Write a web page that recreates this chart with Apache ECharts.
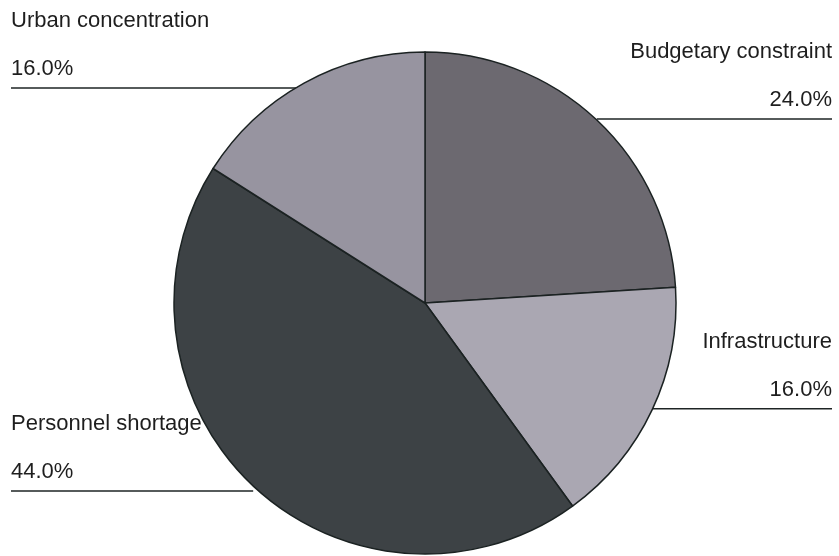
<!DOCTYPE html>
<html>
<head>
<meta charset="utf-8">
<script src="https://cdn.jsdelivr.net/npm/echarts@6/dist/echarts.min.js"></script>
<style>
html,body{margin:0;padding:0;background:#fff;}
#chart{width:839px;height:556px;}
</style>
</head>
<body>
<div id="chart"></div>
<script>
const categories = ['Budgetary constraint', 'Infrastructure', 'Personnel shortage', 'Urban concentration'];
const values = [24.0, 16.0, 44.0, 16.0];
const colors = ['#6c6970', '#aaa7b2', '#3d4245', '#9794a0'];

const chart = echarts.init(document.getElementById('chart'));
chart.setOption({
  animation: false,
  backgroundColor: '#ffffff',
  series: [{
    type: 'pie',
    center: [425, 303],
    radius: 251,
    startAngle: 90,
    clockwise: true,
    data: categories.map((c, i) => ({ name: c, value: values[i], itemStyle: { color: colors[i] } })),
    itemStyle: { borderColor: '#1b2222', borderWidth: 1.5 },
    label: {
      show: true,
      position: 'outside',
      formatter: p => p.name + '\n' + p.percent.toFixed(1) + '%',
      fontFamily: 'Liberation Sans, Arial, sans-serif',
      fontSize: 22,
      lineHeight: 48,
      color: '#1e1e1e'
    },
    labelLine: {
      show: true,
      length: 0,
      length2: 10,
      lineStyle: { color: '#1e2424', width: 1.5 }
    },
    emphasis: { disabled: true },
    labelLayout: function (params) {
      const p0 = params.labelLinePoints[0];
      const left = p0[0] < 425;
      const ly = p0[1] + (left ? 5 : -1);
      const edgeX = left ? 11 : 832;
      return {
        x: edgeX,
        y: ly + 5,
        align: left ? 'left' : 'right',
        verticalAlign: 'bottom',
        labelLinePoints: [[p0[0], ly], [edgeX, ly]]
      };
    }
  }]
});
</script>
</body>
</html>
